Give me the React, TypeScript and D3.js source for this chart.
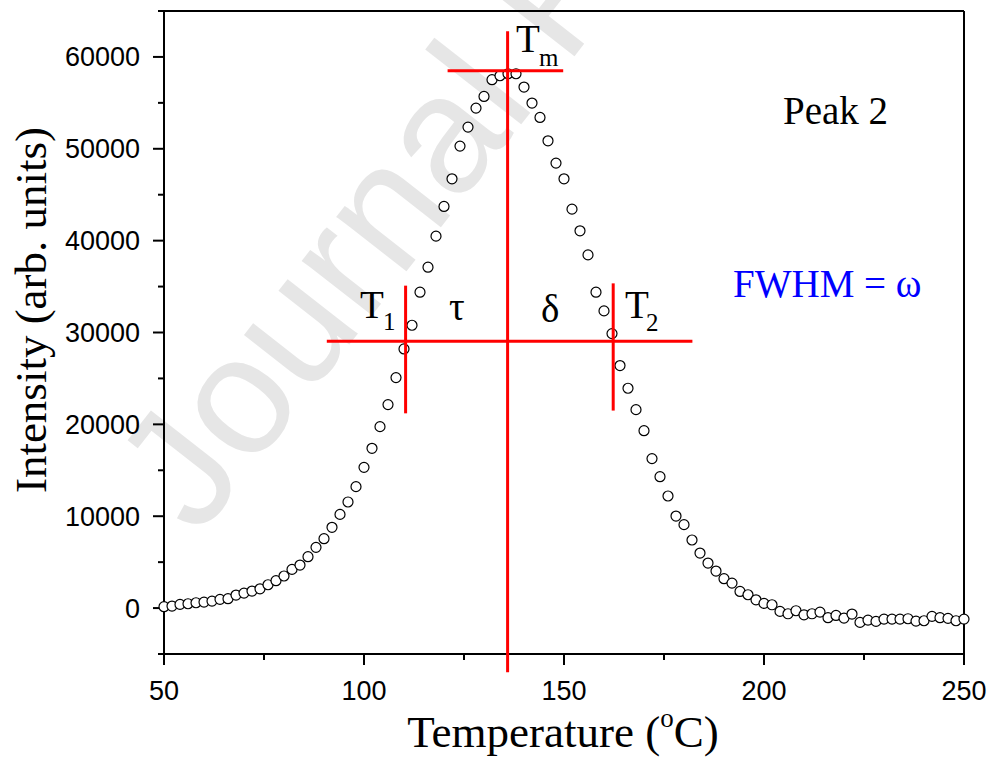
import React from "react";
import * as d3 from "d3";

const temperatures = [
  50, 52, 54, 56, 58, 60, 62, 64, 66, 68, 70, 72, 74, 76, 78, 80, 82, 84, 86, 88,
  90, 92, 94, 96, 98, 100, 102, 104, 106, 108, 110, 112, 114, 116, 118, 120, 122, 124, 126, 128,
  130, 132, 134, 136, 138, 140, 142, 144, 146, 148, 150, 152, 154, 156, 158, 160, 162, 164, 166, 168,
  170, 172, 174, 176, 178, 180, 182, 184, 186, 188, 190, 192, 194, 196, 198, 200, 202, 204, 206, 208,
  210, 212, 214, 216, 218, 220, 222, 224, 226, 228, 230, 232, 234, 236, 238, 240, 242, 244, 246, 248, 250,
];

const intensities = [
  150, 220, 400, 470, 580, 650, 760, 950, 1020, 1420, 1630, 1850, 2100, 2540, 2980, 3490, 4210, 4680, 5590, 6610,
  7550, 8790, 10200, 11550, 13220, 15320, 17390, 19750, 22150, 25090, 28210, 30790, 34390, 37110, 40490, 43720, 46730, 50290, 52360, 54430,
  55700, 57520, 57950, 58170, 58170, 56720, 54980, 53410, 50870, 48440, 46730, 43430, 41070, 38450, 34390, 32350, 29880, 26400, 23930, 21600,
  19310, 16270, 14300, 12200, 10020, 9080, 7410, 5990, 4900, 4030, 3200, 2720, 1810, 1450, 900, 510, 360, -360, -620, -290,
  -730, -620, -440, -1050, -800, -1090, -650, -1560, -1310, -1450, -1200, -1200, -1200, -1160, -1420, -1380, -900, -1050, -1120, -1380, -1200,
];

const xMajorTicks = [50, 100, 150, 200, 250];
const xMinorTicks = [75, 125, 175, 225];
const yMajorTicks = [0, 10000, 20000, 30000, 40000, 50000, 60000];
const yMinorTicks = [-5000, 5000, 15000, 25000, 35000, 45000, 55000, 65000];

// marker lines: [x1, y1, x2, y2] in data units
const markerLines = [
  [135.9, 62800, 135.9, -7000], // Tm vertical
  [120.9, 58500, 149.8, 58500], // Tm horizontal
  [90.7, 29050, 182.1, 29050], // half maximum
  [110.4, 35100, 110.4, 21200], // T1
  [162.3, 35350, 162.3, 21500], // T2
];

const W = 992;
const H = 758;

export default function App() {
  const x = d3.scaleLinear().domain([50, 250]).range([164, 964]);
  const y = d3.scaleLinear().domain([-5000, 65000]).range([654, 11]);
  const serif = "'Liberation Serif', 'Times New Roman', serif";
  const sans = "'Liberation Sans', Arial, sans-serif";
  const data = temperatures.map((t, i) => [t, intensities[i]]);

  return (
    <svg
      width={W}
      height={H}
      viewBox={`0 0 ${W} ${H}`}
      style={{ position: "absolute", left: 0, top: 0, background: "#fff" }}
    >
      <rect x={0} y={0} width={W} height={H} fill="#fff" />
      {/* watermark */}
      <text
        transform="translate(198,538) rotate(-52)"
        fontFamily={sans}
        fontSize={168}
        fill="#e6e6e6"
      >
        Journal Pre-proof
      </text>

      {/* frame */}
      <line x1={x(50)} y1={y(65000)} x2={x(250)} y2={y(65000)} stroke="#000" strokeWidth={2} />
      <line x1={x(250)} y1={y(65000)} x2={x(250)} y2={y(-5000)} stroke="#000" strokeWidth={2} />
      <line x1={x(50)} y1={y(-5000)} x2={x(250)} y2={y(-5000)} stroke="#000" strokeWidth={2} />
      <line x1={x(50)} y1={y(-5000)} x2={x(50)} y2={y(65000)} stroke="#000" strokeWidth={2} />

      {/* x ticks */}
      {xMajorTicks.map((t) => (
        <g key={"xm" + t}>
          <line x1={x(t)} x2={x(t)} y1={y(-5000)} y2={y(-5000) + 11} stroke="#000" strokeWidth={2} />
          <text x={x(t)} y={700} textAnchor="middle" fontFamily={sans} fontSize={27} fill="#000">
            {t}
          </text>
        </g>
      ))}
      {xMinorTicks.map((t) => (
        <line key={"xn" + t} x1={x(t)} x2={x(t)} y1={y(-5000)} y2={y(-5000) + 6} stroke="#000" strokeWidth={2} />
      ))}
      {/* y ticks */}
      {yMajorTicks.map((v) => (
        <g key={"ym" + v}>
          <line x1={x(50) - 11} x2={x(50)} y1={y(v)} y2={y(v)} stroke="#000" strokeWidth={2} />
          <text x={140} y={y(v) + 9.5} textAnchor="end" fontFamily={sans} fontSize={27} fill="#000">
            {v}
          </text>
        </g>
      ))}
      {yMinorTicks.map((v) => (
        <line key={"yn" + v} x1={x(50) - 6} x2={x(50)} y1={y(v)} y2={y(v)} stroke="#000" strokeWidth={2} />
      ))}

      {/* axis titles */}
      <text x={563} y={747} textAnchor="middle" fontFamily={serif} fontSize={45} fill="#000">
        Temperature (
        <tspan fontSize={27} dy={-20}>o</tspan>
        <tspan dy={20}>C)</tspan>
      </text>
      <text
        transform="translate(46,310) rotate(-90)"
        textAnchor="middle"
        fontFamily={serif}
        fontSize={45}
        fill="#000"
      >
        Intensity (arb. units)
      </text>

      {/* data points */}
      {data.map(([t, v]) => (
        <circle key={"p" + t} cx={x(t)} cy={y(v)} r={5} fill="#fff" stroke="#000" strokeWidth={1.2} />
      ))}

      {/* marker lines */}
      {markerLines.map((l, i) => (
        <line key={"ml" + i} x1={x(l[0])} y1={y(l[1])} x2={x(l[2])} y2={y(l[3])} stroke="#ff0000" strokeWidth={3} />
      ))}

      {/* annotations */}
      <text fontFamily={serif} fill="#000">
        <tspan x={516} y={52} fontSize={39}>T</tspan>
        <tspan x={539} y={66} fontSize={25}>m</tspan>
      </text>
      <text fontFamily={serif} fill="#000">
        <tspan x={360} y={318} fontSize={39}>T</tspan>
        <tspan x={383} y={330} fontSize={25}>1</tspan>
      </text>
      <text x={449} y={320} fontFamily={serif} fontSize={39} fill="#000">τ</text>
      <text x={541} y={322} fontFamily={serif} fontSize={39} fill="#000">δ</text>
      <text fontFamily={serif} fill="#000">
        <tspan x={625} y={318} fontSize={39}>T</tspan>
        <tspan x={646} y={331} fontSize={25}>2</tspan>
      </text>
      <text x={783} y={124} fontFamily={serif} fontSize={39} fill="#000">Peak 2</text>
      <text x={733} y={297} fontFamily={serif} fontSize={39} fill="#0000ff">FWHM = ω</text>
    </svg>
  );
}
